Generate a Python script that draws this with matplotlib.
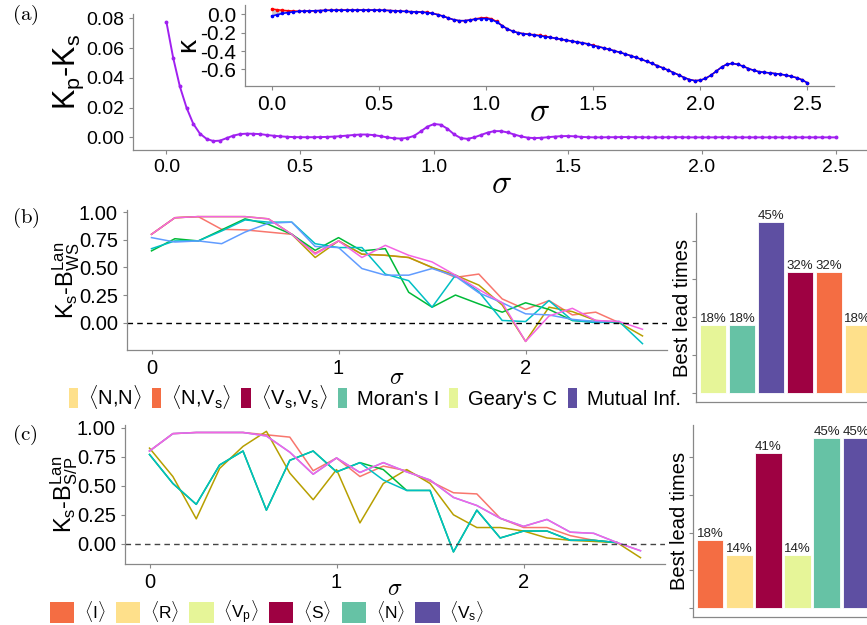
import numpy as np
import matplotlib
matplotlib.use('Agg')
import matplotlib.pyplot as plt
from matplotlib.patches import Patch

plt.rcParams['font.family'] = ['Liberation Sans', 'DejaVu Sans']
plt.rcParams['mathtext.fontset'] = 'custom'
plt.rcParams['mathtext.rm'] = 'Liberation Sans'
plt.rcParams['mathtext.it'] = 'Liberation Sans:italic'
plt.rcParams['mathtext.bf'] = 'Liberation Sans:bold'
plt.rcParams['axes.unicode_minus'] = False

### DATA ###

# (a) sigma grid, step 0.025
sigma_a = np.round(np.arange(0, 101) * 0.025, 3)

kp_minus_ks = [
    0.0775, 0.0536, 0.0343, 0.0200, 0.0092, 0.0025, -0.0010, -0.0025, -0.0022, -0.0005,
    0.0012, 0.0022, 0.0025, 0.0024, 0.0022, 0.0016, 0.0011, 0.0007, 0.0004, 0.0002,
    0.0001, 0.0001, 0.0001, 0.0002, 0.0003, 0.0005, 0.0008, 0.0012, 0.0016, 0.0019,
    0.0019, 0.0015, 0.0008, 0.0000, -0.0006, -0.0008, -0.0004, 0.0010, 0.0040, 0.0072,
    0.0090, 0.0085, 0.0058, 0.0020, -0.0005, -0.0010, 0.0000, 0.0016, 0.0032, 0.0042,
    0.0042, 0.0033, 0.0019, 0.0006, -0.0002, -0.0005, -0.0003, 0.0001, 0.0005, 0.0008,
    0.0009, 0.0007, 0.0003, 0.0001, 0.0000, 0.0000, 0.0001, 0.0001, 0.0002, 0.0002,
    0.0001, 0.0001, 0.0000, 0.0000, 0.0000, 0.0001, 0.0001, 0.0001, 0.0000, 0.0000,
    0.0000, 0.0000, 0.0000, 0.0001, 0.0001, 0.0000, 0.0000, 0.0000, 0.0000, 0.0000,
    0.0000, 0.0000, 0.0000, 0.0000, 0.0000, 0.0000, 0.0000, 0.0000, 0.0000, 0.0000,
    0.0000,
]

kappa_s = [
    -0.020, -0.005, 0.008, 0.018, 0.025, 0.030, 0.034, 0.036, 0.038, 0.040,
    0.041, 0.042, 0.043, 0.043, 0.044, 0.044, 0.045, 0.045, 0.045, 0.045,
    0.044, 0.042, 0.040, 0.037, 0.033, 0.030, 0.027, 0.025, 0.022, 0.017,
    0.008, -0.005, -0.022, -0.042, -0.060, -0.070, -0.070, -0.064, -0.055, -0.048,
    -0.047, -0.058, -0.085, -0.125, -0.160, -0.185, -0.202, -0.213, -0.220, -0.227,
    -0.235, -0.243, -0.252, -0.262, -0.272, -0.282, -0.292, -0.302, -0.312, -0.323,
    -0.340, -0.353, -0.367, -0.382, -0.398, -0.415, -0.432, -0.450, -0.470, -0.490,
    -0.512, -0.535, -0.560, -0.583, -0.608, -0.634, -0.660, -0.688, -0.710, -0.722,
    -0.718, -0.698, -0.664, -0.620, -0.575, -0.543, -0.535, -0.545, -0.565, -0.590,
    -0.610, -0.625, -0.632, -0.638, -0.645, -0.652, -0.662, -0.675, -0.690, -0.712,
    -0.745,
]
# kappa_p is the red curve: kappa_s plus the difference shown in the main panel
kappa_p = np.array(kappa_s) + np.array(kp_minus_ks)

# (b), (c) sigma grid, step 0.125
sigma_bc = np.arange(0, 22) * 0.125

b_red = [0.80, 0.95, 0.96, 0.845, 0.84, 0.82, 0.80, 0.63, 0.74, 0.62, 0.61,
         0.59, 0.50, 0.41, 0.44, 0.215, 0.12, 0.20, 0.07, 0.095, 0.0, np.nan]
b_gold = [0.80, 0.95, 0.96, 0.96, 0.96, 0.94, 0.80, 0.59, 0.74, 0.62, 0.61,
          0.59, 0.50, 0.43, 0.34, 0.16, -0.17, 0.14, 0.10, 0.02, 0.0, -0.12]
b_green = [0.65, 0.76, 0.74, 0.84, 0.94, 0.89, 0.80, 0.655, 0.77, 0.65, 0.67,
           0.275, 0.14, 0.25, 0.17, 0.095, 0.18, 0.12, 0.02, 0.01, 0.0, np.nan]
b_cyan = [0.67, 0.74, 0.74, 0.83, 0.93, 0.91, 0.91, 0.715, 0.68, 0.68, 0.44,
          0.38, 0.14, 0.43, 0.28, 0.02, 0.01, 0.20, 0.02, 0.0, 0.01, -0.19]
b_blue = [0.77, 0.73, 0.74, 0.715, 0.82, 0.90, 0.91, 0.69, 0.68, 0.49, 0.43,
          0.43, 0.49, 0.42, 0.27, 0.18, 0.08, 0.07, 0.03, 0.01, 0.01, np.nan]
b_pink = [0.80, 0.95, 0.96, 0.96, 0.96, 0.94, 0.80, 0.62, 0.74, 0.59, 0.70,
          0.61, 0.55, 0.43, 0.30, 0.18, -0.17, 0.06, 0.13, 0.02, 0.01, -0.06]

c_red = [0.80, 0.95, 0.96, 0.96, 0.96, 0.94, 0.92, 0.63, 0.74, 0.58, 0.67,
         0.63, 0.54, 0.44, 0.43, 0.22, 0.14, 0.14, 0.07, 0.03, 0.01, np.nan]
c_gold = [0.825, 0.58, 0.215, 0.65, 0.84, 0.97, 0.61, 0.38, 0.64, 0.18, 0.52,
          0.64, 0.52, 0.25, 0.14, 0.14, 0.11, 0.05, 0.03, 0.02, 0.01, -0.12]
c_green = [0.77, 0.52, 0.34, 0.68, 0.80, 0.29, 0.72, 0.80, 0.62, 0.70, 0.64,
           0.46, 0.46, -0.07, 0.29, 0.05, 0.11, 0.11, 0.03, 0.03, 0.01, np.nan]
c_cyan = [0.77, 0.52, 0.34, 0.68, 0.80, 0.29, 0.72, 0.80, 0.62, 0.70, 0.55,
          0.46, 0.46, -0.07, 0.29, 0.05, 0.11, 0.11, 0.03, 0.03, 0.01, np.nan]
c_blue = [0.80, 0.95, 0.96, 0.96, 0.96, 0.93, 0.79, 0.60, 0.74, 0.615, 0.70,
          0.62, 0.55, 0.40, 0.33, 0.22, 0.15, 0.21, 0.10, 0.09, 0.01, -0.06]
c_pink = [0.80, 0.95, 0.96, 0.96, 0.96, 0.93, 0.79, 0.60, 0.74, 0.615, 0.70,
          0.62, 0.55, 0.40, 0.33, 0.22, 0.15, 0.21, 0.10, 0.09, 0.01, -0.06]

# bar charts
b_bar_names = ["Geary's C", "Moran's I", "Mutual Inf.", "<Vs,Vs>", "<N,Vs>", "<N,N>"]
b_bar_vals = [0.18, 0.18, 0.45, 0.32, 0.32, 0.18]
b_bar_cols = ['#E6F598', '#66C2A5', '#5E4FA2', '#9E0142', '#F46D43', '#FEE08B']

c_bar_names = ['<I>', '<R>', '<S>', '<Vp>', '<N>', '<Vs>']
c_bar_vals = [0.18, 0.14, 0.41, 0.14, 0.45, 0.45]
c_bar_cols = ['#F46D43', '#FEE08B', '#9E0142', '#E6F598', '#66C2A5', '#5E4FA2']

# legends
b_leg_labels = [r'$\langle\mathrm{N{,}N}\rangle$', r'$\langle\mathrm{N{,}V_s}\rangle$',
                r'$\langle\mathrm{V_s{,}V_s}\rangle$', "Moran's I", "Geary's C", 'Mutual Inf.']
b_leg_cols = ['#FEE08B', '#F46D43', '#9E0142', '#66C2A5', '#E6F598', '#5E4FA2']
c_leg_labels = [r'$\langle\mathrm{I}\rangle$', r'$\langle\mathrm{R}\rangle$',
                r'$\langle\mathrm{V_p}\rangle$', r'$\langle\mathrm{S}\rangle$',
                r'$\langle\mathrm{N}\rangle$', r'$\langle\mathrm{V_s}\rangle$']
c_leg_cols = ['#F46D43', '#FEE08B', '#E6F598', '#9E0142', '#66C2A5', '#5E4FA2']

hue = ['#F8766D', '#B79F00', '#00BA38', '#00BFC4', '#619CFF', '#F564E3']

W, H = 867, 625


def box(l, t, r, b):
    # pixel box -> figure fraction rect
    return [l / W, 1 - b / H, (r - l) / W, (b - t) / H]


def style(ax, spine_col='#888888'):
    for s in ['top', 'right']:
        ax.spines[s].set_visible(False)
    for s in ['left', 'bottom']:
        ax.spines[s].set_color(spine_col)
        ax.spines[s].set_linewidth(0.9)
    ax.tick_params(color=spine_col, length=3, width=0.8)


fig = plt.figure(figsize=(W / 100, H / 100), dpi=100)

# ---------- (a) ----------
ax_a = fig.add_axes(box(133, 14, 869, 150))
style(ax_a)
ax_a.plot(sigma_a, kp_minus_ks, color='#A020F0', lw=1.4, marker='o', ms=1.8)
ax_a.set_xlim(-0.125, 2.625)
ax_a.set_ylim(-0.0085, 0.083)
ax_a.set_xticks([0, 0.5, 1.0, 1.5, 2.0, 2.5])
ax_a.set_xticklabels(['0.0', '0.5', '1.0', '1.5', '2.0', '2.5'])
ax_a.set_yticks([0, 0.02, 0.04, 0.06, 0.08])
ax_a.set_yticklabels(['0.00', '0.02', '0.04', '0.06', '0.08'])
ax_a.tick_params(labelsize=14)
ax_a.set_ylabel('K$_\\mathrm{p}$-K$_\\mathrm{s}$', fontsize=22)
ax_a.yaxis.set_label_coords(-0.064, 0.57)
ax_a.set_xlabel('$\\sigma$', fontsize=24, math_fontfamily='cm')
ax_a.xaxis.set_label_coords(0.5, -0.14)

ax_in = fig.add_axes(box(245, 5, 834, 86))
style(ax_in)
ax_in.fill_between(sigma_a, kappa_s, kappa_p, color='#cccccc', lw=0)
ax_in.plot(sigma_a, kappa_p, color='red', lw=1.1, marker='o', ms=1.6)
ax_in.plot(sigma_a, kappa_s, color='blue', lw=1.1, marker='o', ms=1.6)
ax_in.set_xlim(-0.125, 2.625)
ax_in.set_ylim(-0.78, 0.10)
ax_in.set_xticks([0, 0.5, 1.0, 1.5, 2.0, 2.5])
ax_in.set_xticklabels(['0.0', '0.5', '1.0', '1.5', '2.0', '2.5'])
ax_in.set_yticks([0, -0.2, -0.4, -0.6])
ax_in.set_yticklabels(['0.0', '-0.2', '-0.4', '-0.6'])
ax_in.tick_params(labelsize=15)
ax_in.set_ylabel('κ', fontsize=20)
ax_in.yaxis.set_label_coords(-0.075, 0.5)
ax_in.set_xlabel('$\\sigma$', fontsize=24, math_fontfamily='cm', labelpad=-12)

# ---------- (b) ----------
ax_b = fig.add_axes(box(127, 210, 667, 350))
style(ax_b)
for ys, c in zip([b_red, b_gold, b_green, b_cyan, b_blue, b_pink], hue):
    ax_b.plot(sigma_bc, ys, color=c, lw=1.1)
ax_b.axhline(0, color='black', lw=1.0, ls=(0, (4, 3)))
ax_b.set_xlim(-0.131, 2.756)
ax_b.set_ylim(-0.2475, 1.02)
ax_b.set_xticks([0, 1, 2])
ax_b.set_yticks([0, 0.25, 0.5, 0.75, 1.0])
ax_b.set_yticklabels(['0.00', '0.25', '0.50', '0.75', '1.00'])
ax_b.tick_params(labelsize=14.5)
ax_b.set_ylabel('K$_\\mathrm{s}$-B$^\\mathrm{Lan}_\\mathrm{WS}$', fontsize=17)
ax_b.yaxis.set_label_coords(-0.083, 0.5)
ax_b.set_xlabel('$\\sigma$', fontsize=17, math_fontfamily='cm', labelpad=-8)

ax_bb = fig.add_axes(box(696, 213, 875, 402))
style(ax_bb)
xb = np.arange(len(b_bar_vals))
ax_bb.bar(xb, b_bar_vals, width=0.9, color=b_bar_cols, edgecolor='white', lw=0.6)
for x, v in zip(xb, b_bar_vals):
    ax_bb.text(x, v, f'{round(v * 100)}%', ha='center', va='bottom', fontsize=9.5, color='#222222')
ax_bb.set_xlim(-0.6, 5.6)
ax_bb.set_ylim(-0.0225, 0.475)
ax_bb.set_xticks([])
ax_bb.set_yticks([0, 0.1, 0.2, 0.3, 0.4])
ax_bb.set_yticklabels([])
ax_bb.set_ylabel('Best lead times', fontsize=14.5)
ax_bb.yaxis.set_label_coords(-0.02, 0.5)

leg_b = fig.legend(handles=[Patch(facecolor=c, edgecolor='none') for c in b_leg_cols],
                   labels=b_leg_labels, loc='center left', bbox_to_anchor=(69 / W, 1 - 397 / H),
                   ncol=6, frameon=False, fontsize=14.5, handlelength=0.45, handleheight=1.15,
                   handletextpad=0.5, columnspacing=0.5, borderpad=0, borderaxespad=0)

# ---------- (c) ----------
ax_c = fig.add_axes(box(125, 425, 665, 564))
style(ax_c)
for ys, c in zip([c_red, c_gold, c_green, c_cyan, c_blue, c_pink], hue):
    ax_c.plot(sigma_bc, ys, color=c, lw=1.1)
ax_c.axhline(0, color='#444444', lw=1.0, ls=(0, (4, 3)))
ax_c.set_xlim(-0.131, 2.756)
ax_c.set_ylim(-0.1745, 1.0245)
ax_c.set_xticks([0, 1, 2])
ax_c.set_yticks([0, 0.25, 0.5, 0.75, 1.0])
ax_c.set_yticklabels(['0.00', '0.25', '0.50', '0.75', '1.00'])
ax_c.tick_params(labelsize=14.5)
ax_c.set_ylabel('K$_\\mathrm{s}$-B$^\\mathrm{Lan}_\\mathrm{S/P}$', fontsize=17)
ax_c.yaxis.set_label_coords(-0.083, 0.5)
ax_c.set_xlabel('$\\sigma$', fontsize=17, math_fontfamily='cm', labelpad=-10)

ax_cb = fig.add_axes(box(693, 425, 873, 617))
style(ax_cb)
xc = np.arange(len(c_bar_vals))
ax_cb.bar(xc, c_bar_vals, width=0.9, color=c_bar_cols, edgecolor='white', lw=0.6)
for x, v in zip(xc, c_bar_vals):
    ax_cb.text(x, v, f'{round(v * 100)}%', ha='center', va='bottom', fontsize=9.5, color='#222222')
ax_cb.set_xlim(-0.6, 5.6)
ax_cb.set_ylim(-0.024, 0.485)
ax_cb.set_xticks([])
ax_cb.set_yticks([0, 0.1, 0.2, 0.3, 0.4])
ax_cb.set_yticklabels([])
ax_cb.set_ylabel('Best lead times', fontsize=14.5)
ax_cb.yaxis.set_label_coords(-0.02, 0.5)

leg_c = fig.legend(handles=[Patch(facecolor=c, edgecolor='none') for c in c_leg_cols],
                   labels=c_leg_labels, loc='center left', bbox_to_anchor=(50 / W, 1 - 612 / H),
                   ncol=6, frameon=False, fontsize=12.5, handlelength=1.4, handleheight=1.45,
                   handletextpad=0.55, columnspacing=0.6, borderpad=0, borderaxespad=0)

# panel letters
for lab, y in [('(a)', 15), ('(b)', 218), ('(c)', 435)]:
    fig.text(12 / W, 1 - y / H, '$\\mathrm{' + lab + '}$', fontsize=15, math_fontfamily='cm',
             va='center', ha='left')

fig.savefig('out.png', dpi=100)
